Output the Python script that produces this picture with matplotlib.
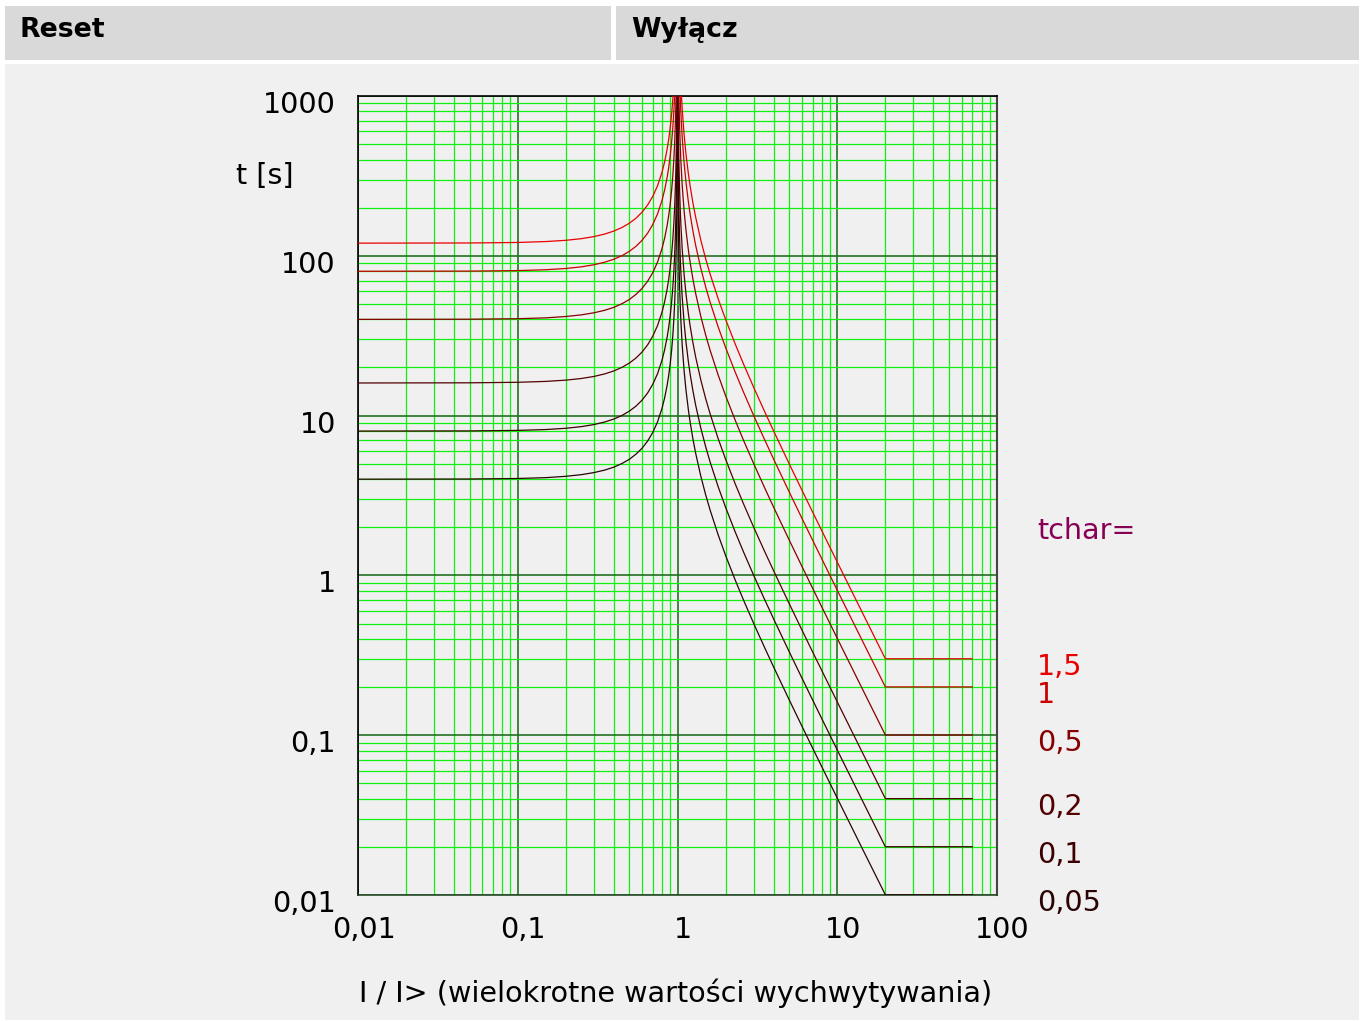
import matplotlib
matplotlib.use("Agg")
import matplotlib.pyplot as plt
from matplotlib.patches import Rectangle
from matplotlib.ticker import LogLocator, NullFormatter

# ---------------- data ----------------
tchar_labels = ["0,05", "0,1", "0,2", "0,5", "1", "1,5"]
curve_colors = ["#2a0404", "#3c0000", "#520000", "#880000", "#c80000", "#e80000"]

x_ticks = [0.01, 0.1, 1, 10, 100]
x_tick_labels = ["0,01", "0,1", "1", "10", "100"]
y_ticks = [0.01, 0.1, 1, 10, 100, 1000]
y_tick_labels = ["0,01", "0,1", "1", "10", "100", "1000"]

# reset side (I < 1): current multiples
reset_I = [0.01, 0.05, 0.1, 0.15, 0.2, 0.25, 0.3, 0.35, 0.4, 0.45, 0.5, 0.55, 0.6,
           0.65, 0.7, 0.75, 0.8, 0.83, 0.86, 0.88, 0.9, 0.92, 0.935, 0.95, 0.96,
           0.97, 0.977, 0.983, 0.988, 0.992, 0.995, 0.997, 0.998, 0.999]
reset_t_005 = [4.0, 4.01, 4.04, 4.09, 4.17, 4.27, 4.40, 4.56, 4.76, 5.02, 5.33,
               5.74, 6.25, 6.93, 7.84, 9.14, 11.11, 12.86, 15.36, 17.73, 21.05,
               26.04, 31.80, 41.03, 51.0, 67.7, 87.95, 118.7, 167.6, 251.0, 401.0,
               667.6, 1001]
reset_t_01 = [8.0, 8.02, 8.08, 8.18, 8.33, 8.53, 8.79, 9.12, 9.52, 10.03, 10.67,
              11.47, 12.5, 13.85, 15.69, 18.29, 22.22, 25.72, 30.72, 35.46, 42.11,
              52.08, 63.61, 82.05, 102.0, 135.4, 175.9, 237.3, 335.3, 502.0, 802.0,
              1335]
reset_t_02 = [16.0, 16.04, 16.16, 16.37, 16.67, 17.07, 17.58, 18.23, 19.05, 20.06,
              21.33, 22.94, 25.0, 27.7, 31.4, 36.6, 44.4, 51.4, 61.4, 70.9, 84.2,
              104.2, 127.2, 164.1, 204.1, 270.8, 351.8, 474.6, 670.6, 1004]
reset_t_05 = [40.0, 40.1, 40.4, 40.9, 41.7, 42.7, 44.0, 45.6, 47.6, 50.2, 53.3,
              57.4, 62.5, 69.3, 78.4, 91.4, 111.1, 128.6, 153.6, 177.3, 210.5,
              260.4, 318.0, 410.3, 510.2, 677.0, 879.5, 1187]
reset_t_1 = [80.0, 80.2, 80.8, 81.8, 83.3, 85.3, 87.9, 91.2, 95.2, 100.3, 106.7,
             114.7, 125.0, 138.5, 156.9, 182.9, 222.2, 257.2, 307.2, 354.6, 421.1,
             520.8, 636.1, 820.5, 1020]
reset_t_15 = [120.0, 120.3, 121.2, 122.8, 125.0, 128.0, 131.9, 136.8, 142.9, 150.5,
              160.0, 172.0, 187.5, 207.8, 235.3, 274.3, 333.3, 385.8, 460.8, 531.9,
              631.6, 781.3, 954.2, 1231]

# trip side (I > 1)
trip_I = [1.001, 1.002, 1.003, 1.005, 1.007, 1.01, 1.015, 1.02, 1.03, 1.04, 1.05,
          1.07, 1.1, 1.13, 1.17, 1.2, 1.25, 1.3, 1.4, 1.5, 1.6, 1.8, 2, 2.3, 2.6,
          3, 3.5, 4, 5, 6, 7, 8.5, 10, 14, 20, 70]
trip_t_005 = [1999, 999, 665.7, 399, 284.7, 199, 132.4, 99, 65.7, 49.02, 39.02,
              27.6, 19.05, 14.45, 10.85, 9.09, 7.11, 5.80, 4.167, 3.2, 2.564, 1.786,
              1.333, 0.9325, 0.6944, 0.5, 0.3556, 0.2667, 0.1667, 0.1143, 0.08333,
              0.05615, 0.0404, 0.02051, 0.01003, 0.01003]
trip_t_01 = [1331, 798, 569.4, 398, 264.7, 198, 131.4, 98.04, 78.05, 55.21, 38.1,
             28.89, 21.69, 18.18, 14.22, 11.59, 8.333, 6.4, 5.128, 3.571, 2.667,
             1.865, 1.389, 1.0, 0.7111, 0.5333, 0.3333, 0.2286, 0.1667, 0.1123,
             0.08081, 0.04103, 0.02005, 0.02005]
trip_t_02 = [1139, 796, 529.4, 396, 262.8, 196.1, 156.1, 110.4, 76.2, 57.78, 43.38,
             36.36, 28.44, 23.19, 16.67, 12.8, 10.26, 7.14, 5.333, 3.73, 2.778, 2.0,
             1.422, 1.067, 0.6667, 0.4571, 0.3333, 0.2246, 0.1616, 0.08205, 0.0401,
             0.0401]
trip_t_05 = [1324, 990, 657, 490.2, 390.3, 276.1, 190.5, 144.5, 108.5, 90.9, 71.1,
             57.97, 41.67, 32.0, 25.64, 17.86, 13.33, 9.33, 6.94, 5.0, 3.556, 2.667,
             1.667, 1.143, 0.8333, 0.5615, 0.404, 0.2051, 0.1003, 0.1003]
trip_t_1 = [1314, 980.4, 780.5, 552.1, 381.0, 288.9, 216.9, 181.8, 142.2, 115.9,
            83.33, 64.0, 51.28, 35.71, 26.67, 18.65, 13.89, 10.0, 7.111, 5.333,
            3.333, 2.286, 1.667, 1.123, 0.8081, 0.4103, 0.2005, 0.2005]
trip_t_15 = [1171, 828.2, 571.4, 433.4, 325.4, 272.7, 213.3, 173.9, 125.0, 96.0,
             76.92, 53.57, 40.0, 27.98, 20.83, 15.0, 10.67, 8.0, 5.0, 3.429, 2.5,
             1.684, 1.212, 0.6154, 0.3008, 0.3008]

reset_curves = [reset_t_005, reset_t_01, reset_t_02, reset_t_05, reset_t_1, reset_t_15]
trip_curves = [trip_t_005, trip_t_01, trip_t_02, trip_t_05, trip_t_1, trip_t_15]

# ---------------- figure ----------------
W, H = 1365, 1021
plt.rcParams['font.family'] = ['DejaVu Sans']
fig = plt.figure(figsize=(W / 100, H / 100), dpi=100, facecolor="white")
FS = 20.6


def box(x0, y0, x1, y1, color):
    fig.add_artist(Rectangle((x0 / W, 1 - y1 / H), (x1 - x0) / W, (y1 - y0) / H,
                             transform=fig.transFigure, facecolor=color,
                             edgecolor="none", zorder=-10))


box(5, 6, 611, 60, "#d9d9d9")
box(616, 6, 1359, 60, "#d9d9d9")
box(5, 64, 1359, 1020, "#f0f0f0")

fig.text(20 / W, 1 - 30 / H, "Reset", fontsize=19.3, fontweight="bold",
         ha="left", va="center", color="black")
fig.text(631 / W, 1 - 30 / H, "Wyłącz", fontsize=19.3, fontweight="bold",
         ha="left", va="center", color="black")

ax_l, ax_r, ax_t, ax_b = 358, 997, 96, 895
ax = fig.add_axes([ax_l / W, 1 - ax_b / H, (ax_r - ax_l) / W, (ax_b - ax_t) / H])
ax.set_facecolor("#f0f0f0")
ax.set_xscale("log")
ax.set_yscale("log")
ax.set_xlim(0.01, 100)
ax.set_ylim(0.01, 1000)

ax.xaxis.set_major_locator(LogLocator(base=10, numticks=20))
ax.yaxis.set_major_locator(LogLocator(base=10, numticks=20))
ax.xaxis.set_minor_locator(LogLocator(base=10, subs=range(2, 10), numticks=100))
ax.yaxis.set_minor_locator(LogLocator(base=10, subs=range(2, 10), numticks=100))
ax.xaxis.set_minor_formatter(NullFormatter())
ax.yaxis.set_minor_formatter(NullFormatter())
ax.tick_params(which="both", length=0, labelbottom=False, labelleft=False)
ax.grid(True, which="minor", color="#11f011", linewidth=0.9, zorder=0)
ax.grid(True, which="major", color="#237023", linewidth=1.2, zorder=0)
ax.set_axisbelow(True)

for sp in ["left", "top"]:
    ax.spines[sp].set_color("black")
    ax.spines[sp].set_linewidth(1.2)
ax.spines["right"].set_color("#444444")
ax.spines["right"].set_linewidth(1.5)
ax.spines["bottom"].set_color("#2a4a2a")
ax.spines["bottom"].set_linewidth(1.2)

for rt, tt, col in zip(reset_curves, trip_curves, curve_colors):
    ax.plot(reset_I[:len(rt)], rt, color=col, linewidth=0.9, zorder=3)
    ax.plot(trip_I[-len(tt):], tt, color=col, linewidth=0.9, zorder=3)

# tick labels
for v, lab in zip(y_ticks, y_tick_labels):
    ax.annotate(lab, xy=(0, v), xycoords=("axes fraction", "data"),
                xytext=(-16, -6.5), textcoords="offset points",
                ha="right", va="center", fontsize=FS, color="black",
                annotation_clip=False)
for v, lab in zip(x_ticks, x_tick_labels):
    ax.annotate(lab, xy=(v, 0), xycoords=("data", "axes fraction"),
                xytext=(4, -25.5), textcoords="offset points",
                ha="center", va="center", fontsize=FS, color="black",
                annotation_clip=False)

# curve labels on right
for tt, lab, col in zip(trip_curves, tchar_labels, curve_colors):
    ax.annotate(lab, xy=(1, tt[-1]), xycoords=("axes fraction", "data"),
                xytext=(28.8, -6), textcoords="offset points",
                ha="left", va="center", fontsize=FS, color=col,
                annotation_clip=False)

fig.text(1037 / W, 1 - 531 / H, "tchar=", fontsize=FS, color="#880055",
         ha="left", va="center")
fig.text(265 / W, 1 - 176 / H, "t [s]", fontsize=FS, color="black",
         ha="center", va="center")
fig.text(676 / W, 1 - 993 / H, "I / I> (wielokrotne wartości wychwytywania)",
         fontsize=FS, color="black", ha="center", va="center")

fig.savefig("out.png", dpi=100, facecolor="white")
